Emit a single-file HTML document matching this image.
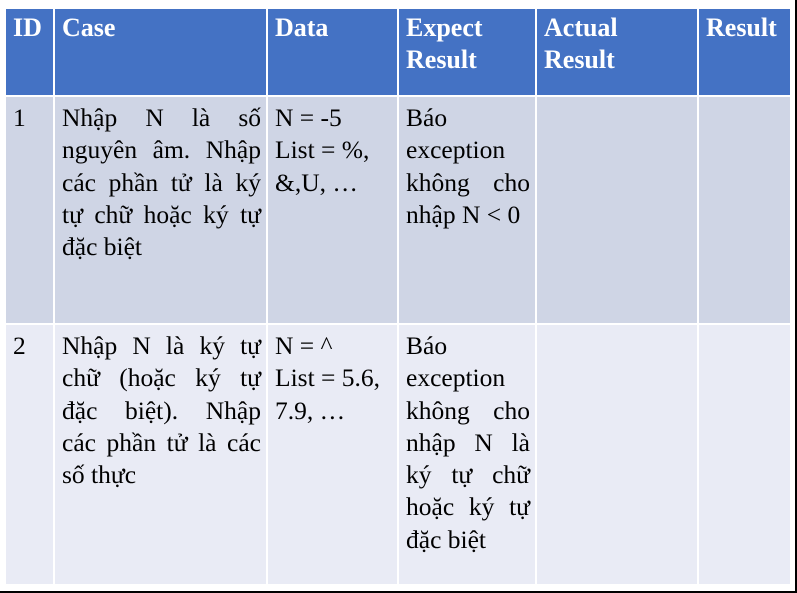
<!DOCTYPE html>
<html><head><meta charset="utf-8"><style>
body{margin:0;width:797px;height:593px;background:#fff;overflow:hidden;position:relative;font-family:"Liberation Serif",serif;}
.frame{position:absolute;left:0;top:0;width:795px;height:591px;border-right:2px solid #000;border-bottom:2px solid #000;box-sizing:content-box}
table{position:absolute;left:4px;top:7px;border-collapse:collapse;table-layout:fixed;width:786px}
td,th{border:2px solid #fff;vertical-align:top;padding:5px 5px 0 7px;font-size:25.5px;line-height:32.3px;text-align:left;color:#000}
th{background:#4472C4;color:#fff;font-weight:bold;font-size:26px;height:83px;padding-top:3px}
tr.r1 td{background:#CFD5E5;height:221px}
tr.r2 td{background:#E9EBF5;height:254px}
.l{text-align:justify;text-align-last:justify;white-space:nowrap}
</style></head><body>
<div class="frame"></div>
<table>
<colgroup><col style="width:49px"><col style="width:213px"><col style="width:131px"><col style="width:138px"><col style="width:162px"><col style="width:93px"></colgroup>
<tr>
<th>ID</th>
<th>Case</th>
<th>Data</th>
<th>Expect Result</th>
<th>Actual<br>Result</th>
<th>Result</th>
</tr>
<tr class="r1">
<td>1</td>
<td><div class="l">Nhập N là số</div><div class="l">nguyên âm. Nhập</div><div class="l">các phần tử là ký</div><div class="l">tự chữ hoặc ký tự</div><div>đặc biệt</div></td>
<td>N = -5<br>List = %, &amp;,U, …</td>
<td><div>Báo</div><div>exception</div><div class="l">không cho</div><div>nhập N &lt; 0</div></td>
<td></td>
<td></td>
</tr>
<tr class="r2">
<td>2</td>
<td><div class="l">Nhập N là ký tự</div><div class="l">chữ (hoặc ký tự</div><div class="l">đặc biệt). Nhập</div><div class="l">các phần tử là các</div><div>số thực</div></td>
<td>N = ^<br>List = 5.6, 7.9, …</td>
<td><div>Báo</div><div>exception</div><div class="l">không cho</div><div class="l">nhập N là</div><div class="l">ký tự chữ</div><div class="l">hoặc ký tự</div><div>đặc biệt</div></td>
<td></td>
<td></td>
</tr>
</table>
</body></html>
